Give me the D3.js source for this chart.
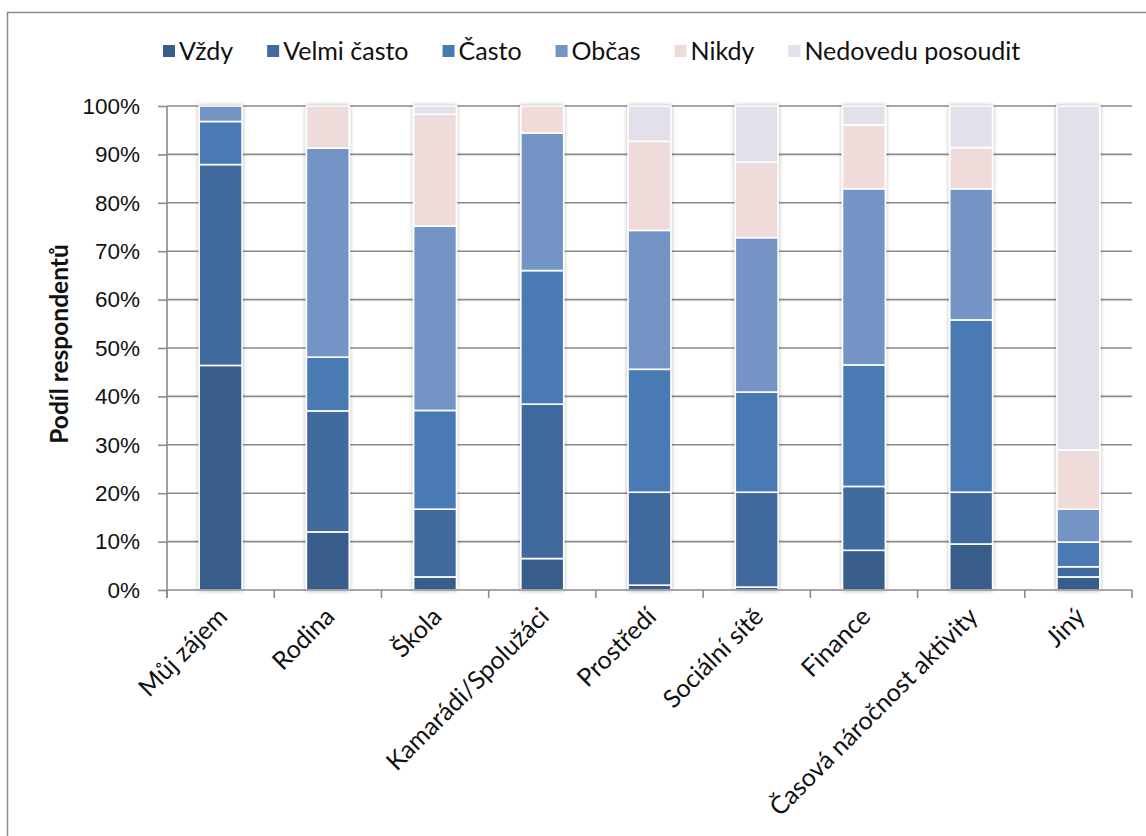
<!DOCTYPE html>
<html>
<head>
<meta charset="utf-8">
<script src="https://cdn.jsdelivr.net/npm/d3@7"></script>
<style>
  html, body { margin: 0; padding: 0; background: #fff; }
  svg { display: block; font-family: Lato, "Open Sans", sans-serif; }
</style>
</head>
<body>
<svg id="chart" width="1146" height="836"></svg>
<script>
// Categories (reasons) and answer levels
const categories = ["Můj zájem", "Rodina", "Škola", "Kamarádi/Spolužáci", "Prostředí",
  "Sociální sítě", "Finance", "Časová náročnost aktivity", "Jiný"];
const seriesNames = ["Vždy", "Velmi často", "Často", "Občas", "Nikdy", "Nedovedu posoudit"];
const seriesColors = ["#395d8a", "#416b9e", "#4a7ab4", "#7394c4", "#f0dbdb", "#e3dfeb"];

// Share of respondents (%) per answer, one value per category
const vzdy       = [46.4, 12.0,  2.7,  6.5,  1.0,  0.6,  8.2,  9.5,  2.7];
const velmiCasto = [41.5, 25.0, 14.0, 31.9, 19.2, 19.6, 13.2, 10.7,  2.1];
const casto      = [ 8.9, 11.1, 20.4, 27.6, 25.4, 20.7, 25.1, 35.6,  5.1];
const obcas      = [ 3.2, 43.2, 38.1, 28.4, 28.7, 31.9, 36.4, 27.1,  6.8];
const nikdy      = [ 0.0,  8.7, 23.1,  5.6, 18.4, 15.6, 13.2,  8.5, 12.2];
const nedovedu   = [ 0.0,  0.0,  1.7,  0.0,  7.3, 11.6,  3.9,  8.6, 71.1];

const yTicks = [0, 10, 20, 30, 40, 50, 60, 70, 80, 90, 100];

const seriesValues = [vzdy, velmiCasto, casto, obcas, nikdy, nedovedu];
const rows = categories.map((c, i) => {
  const r = { category: c };
  seriesNames.forEach((s, k) => { r[s] = seriesValues[k][i]; });
  return r;
});

const svg = d3.select("#chart");
const W = 1146, H = 836;
const margin = { top: 106, right: 14, bottom: 246, left: 167 };
const innerW = W - margin.left - margin.right;
const innerH = H - margin.top - margin.bottom;

// outer chart frame (runs off the right and bottom edges)
svg.append("rect")
  .attr("x", 7.5).attr("y", 12.5)
  .attr("width", W + 10).attr("height", H + 10)
  .attr("fill", "none").attr("stroke", "#8c8c8c").attr("stroke-width", 1.5);

// soft shadow behind bars
const defs = svg.append("defs");
const f = defs.append("filter").attr("id", "barShadow")
  .attr("x", "-30%").attr("y", "-5%").attr("width", "160%").attr("height", "110%");
f.append("feGaussianBlur").attr("in", "SourceAlpha").attr("stdDeviation", 2.2).attr("result", "b");
f.append("feComponentTransfer").attr("in", "b").attr("result", "s")
  .append("feFuncA").attr("type", "linear").attr("slope", 0.3);
const fm = f.append("feMerge");
fm.append("feMergeNode").attr("in", "s");
fm.append("feMergeNode").attr("in", "SourceGraphic");

const g = svg.append("g").attr("transform", `translate(${margin.left},${margin.top})`);

const x = d3.scaleBand().domain(categories).range([0, innerW]).paddingInner(0.6).paddingOuter(0.3);
const y = d3.scaleLinear().domain([0, 100]).range([innerH, 0]);

// horizontal gridlines
g.append("g").selectAll("line").data(yTicks.filter(t => t > 0)).join("line")
  .attr("x1", 0).attr("x2", innerW)
  .attr("y1", d => y(d)).attr("y2", d => y(d))
  .attr("stroke", "#8a8a8a").attr("stroke-width", 1.6);

// y axis
const yAxis = g.append("g")
  .call(d3.axisLeft(y).tickValues(yTicks).tickFormat(d => d + "%").tickSize(9).tickPadding(18));
yAxis.select(".domain").attr("stroke", "#8a8a8a").attr("stroke-width", 1.6)
  .attr("d", `M0,${innerH + 8}V0`);
yAxis.selectAll(".tick line").attr("stroke", "#8a8a8a").attr("stroke-width", 1.6);
yAxis.selectAll(".tick text").attr("font-size", 22.5).attr("fill", "#111");

// stacked bars
const stack = d3.stack().keys(seriesNames);
const layers = stack(rows);
g.append("g").attr("filter", "url(#barShadow)")
  .selectAll("g").data(layers).join("g")
  .attr("fill", (d, i) => seriesColors[i])
  .selectAll("rect").data(d => d.filter(s => s[1] - s[0] > 0)).join("rect")
  .attr("x", d => x(d.data.category))
  .attr("width", x.bandwidth())
  .attr("y", d => y(d[1]))
  .attr("height", d => y(d[0]) - y(d[1]))
  .attr("stroke", "#fff").attr("stroke-width", 1.6);

// x axis line and boundary ticks
const step = x.step();
g.append("line").attr("x1", 0).attr("x2", innerW).attr("y1", innerH).attr("y2", innerH)
  .attr("stroke", "#8a8a8a").attr("stroke-width", 1.6);
g.append("g").selectAll("line").data(d3.range(categories.length + 1)).join("line")
  .attr("x1", i => i * step).attr("x2", i => i * step)
  .attr("y1", innerH).attr("y2", innerH + 8)
  .attr("stroke", "#8a8a8a").attr("stroke-width", 1.6);

// rotated category labels
g.append("g").selectAll("text").data(categories).join("text")
  .attr("transform", d => `translate(${x(d) + x.bandwidth() / 2 + 2},${innerH + 22}) rotate(-45)`)
  .attr("text-anchor", "end")
  .attr("dy", "0.35em")
  .attr("font-size", 25).attr("fill", "#111")
  .text(d => d);

// y axis title
svg.append("text")
  .attr("transform", `translate(68,${margin.top + innerH / 2 - 4}) rotate(-90)`)
  .attr("text-anchor", "middle")
  .attr("font-size", 24.5).attr("font-weight", "bold").attr("fill", "#111")
  .text("Podíl respondentů");

// legend
const legend = svg.append("g").attr("transform", "translate(163,51)");
let lx = 0;
seriesNames.forEach((s, i) => {
  const item = legend.append("g").attr("transform", `translate(${lx},0)`);
  item.append("rect").attr("x", 0).attr("y", -6).attr("width", 12).attr("height", 12)
    .attr("fill", seriesColors[i]);
  const t = item.append("text").attr("x", 16).attr("dy", "0.35em")
    .attr("font-size", 25).attr("fill", "#111").text(s);
  lx += 16 + t.node().getComputedTextLength() + 34;
});
</script>
</body>
</html>
